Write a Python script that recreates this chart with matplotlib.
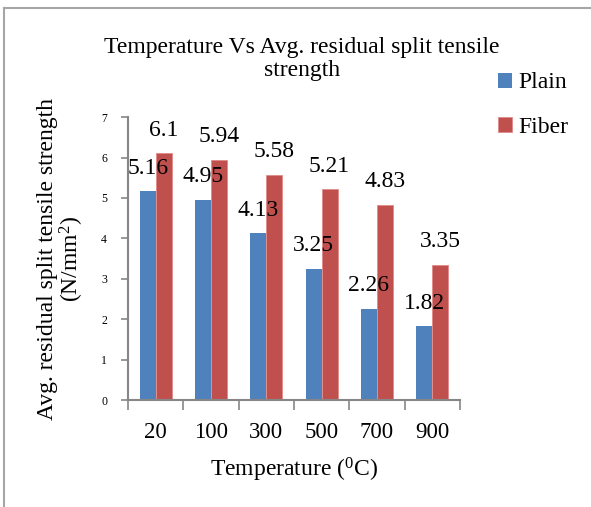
import numpy as np
import matplotlib
matplotlib.use("Agg")
import matplotlib.pyplot as plt
from matplotlib.lines import Line2D

plt.rcParams['font.family'] = ['Liberation Serif', 'DejaVu Serif']
plt.rcParams['mathtext.fontset'] = 'custom'
plt.rcParams['mathtext.rm'] = 'Liberation Serif'

# データ
temperatures = ['20', '100', '300', '500', '700', '900']
plain = [5.16, 4.95, 4.13, 3.25, 2.26, 1.82]
fiber = [6.1, 5.94, 5.58, 5.21, 4.83, 3.35]
plain_labels = ['5.16', '4.95', '4.13', '3.25', '2.26', '1.82']
fiber_labels = ['6.1', '5.94', '5.58', '5.21', '4.83', '3.35']

blue = '#4F81BD'
red = '#C0504D'
gray = '#868686'

fig = plt.figure(figsize=(5.91, 5.07), dpi=100)
ax = fig.add_axes([0.2166, 0.211, 0.5614, 0.558])

x = np.arange(len(temperatures))
w = 0.29
ax.bar(x - w / 2, plain, w, color=blue, label='Plain')
ax.bar(x + w / 2, fiber, w, color=red, edgecolor='#E08A88', linewidth=0.6, label='Fiber')

for i in range(len(x)):
    ax.annotate(plain_labels[i], (x[i] - w / 2, plain[i]), xytext=(0, 9),
                textcoords='offset points', ha='center', va='bottom', fontsize=17)
    ax.annotate(fiber_labels[i], (x[i] + w / 2, fiber[i]), xytext=(0, 9),
                textcoords='offset points', ha='center', va='bottom', fontsize=17)

ax.set_xlim(-0.5, len(x) - 0.5)
ax.set_ylim(0, 7)
ax.set_yticks(range(0, 8))
ax.tick_params(axis='y', labelsize=8.5, length=5, width=1.2, color=gray, pad=10)

# x軸: 目盛りはカテゴリの境界、ラベルは中央
ax.set_xticks(np.arange(-0.5, len(x), 1.0))
ax.set_xticklabels([])
ax.set_xticks(x, minor=True)
ax.set_xticklabels(temperatures, minor=True, fontsize=16.5)
ax.tick_params(axis='x', which='major', length=7, width=1.2, color=gray)
ax.tick_params(axis='x', which='minor', length=0, pad=16)

for s in ['top', 'right']:
    ax.spines[s].set_visible(False)
for s in ['left', 'bottom']:
    ax.spines[s].set_color(gray)
    ax.spines[s].set_linewidth(1.5)

ax.set_xlabel(r'Temperature ($\mathregular{^0}$C)', fontsize=17, labelpad=9)
ax.set_ylabel('Avg. residual split tensile strength\n' + r'(N/mm$\mathregular{^2}$)',
              fontsize=17, linespacing=1.0, labelpad=11)

fig.text(0.511, 0.884, 'Temperature Vs Avg. residual split tensile\nstrength',
         ha='center', va='center', fontsize=17, linespacing=1.1)

fig.legend(loc='upper left', bbox_to_anchor=(0.806, 0.899), frameon=False,
           fontsize=17, handlelength=0.6, handleheight=0.6, handletextpad=0.3,
           labelspacing=0.99)

# 外枠
fig.add_artist(Line2D([0.0068, 1.0], [0.984, 0.984], color='#A6A6A6', lw=1.5,
                      transform=fig.transFigure))
fig.add_artist(Line2D([0.0068, 0.0068], [0.0, 0.984], color='#A6A6A6', lw=1.5,
                      transform=fig.transFigure))

fig.savefig('out.png', dpi=100)
